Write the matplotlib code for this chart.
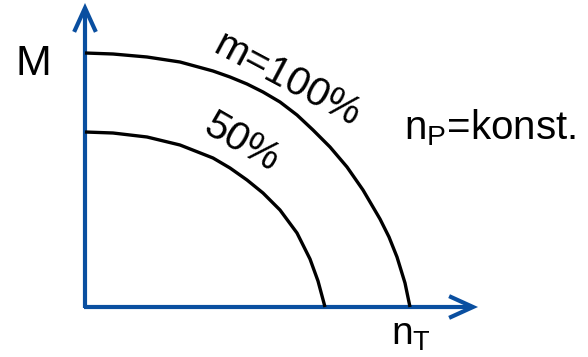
import matplotlib
matplotlib.use("Agg")
import matplotlib.pyplot as plt

plt.rcParams['font.family'] = ['Liberation Sans', 'DejaVu Sans']
plt.rcParams['mathtext.fontset'] = 'custom'
plt.rcParams['mathtext.rm'] = 'Liberation Sans'
plt.rcParams['mathtext.it'] = 'Liberation Sans'

# Curve data (n_T, M)
n_100 = [0, 28, 62, 95, 128, 145, 162, 178, 195, 212, 228, 245, 262, 278, 295, 304, 312, 320, 325]
m_100 = [254, 253, 250, 245, 236, 230, 223, 215, 205, 192, 177, 160, 140, 117, 88, 70, 50, 24, 0]
n_50 = [0, 28, 62, 95, 128, 145, 162, 178, 195, 212, 225, 233, 240]
m_50 = [175, 174, 170, 162, 149, 139, 127, 114, 97, 74, 48, 26, 0]

label_100 = "m=100%"
label_50 = "50%"
label_y = "M"
label_x = r"n$_{\mathregular{T}}$"
label_p = r"n$_{\mathregular{P}}$=konst."

blue = "#0a4fa0"

fig = plt.figure(figsize=(5.88, 3.57), dpi=100)
ax = fig.add_axes([0, 0, 1, 1])
ax.set_xlim(-85, 503)
ax.set_ylim(-50, 307)
ax.axis('off')

# axes with open arrow heads
ax.plot([0, 0], [-1, 298], color=blue, lw=3.0, solid_capstyle='butt', clip_on=False)
ax.plot([-10, 0, 10], [277, 299, 277], color=blue, lw=3.0, solid_joinstyle='miter', clip_on=False)
ax.plot([-1, 387], [0, 0], color=blue, lw=3.0, solid_capstyle='butt', clip_on=False)
ax.plot([366, 388, 366], [10, 0, -10], color=blue, lw=3.0, solid_joinstyle='miter', clip_on=False)

# curves
ax.plot(n_100, m_100, color='black', lw=2.4, solid_capstyle='butt', solid_joinstyle='round', clip_on=False)
ax.plot(n_50, m_50, color='black', lw=2.4, solid_capstyle='butt', solid_joinstyle='round', clip_on=False)

# texts
ax.text(-52, 243, label_y, fontsize=31, ha='center', va='center')
ax.text(306, -38, label_x, fontsize=28, ha='left', va='baseline')
ax.text(319, 168, label_p, fontsize=29, ha='left', va='baseline')
ax.text(202, 227, label_100, fontsize=29, ha='center', va='center',
        rotation=-28, rotation_mode='anchor')
ax.text(157, 164, label_50, fontsize=29, ha='center', va='center',
        rotation=-30, rotation_mode='anchor')

fig.savefig("out.png", dpi=100)
